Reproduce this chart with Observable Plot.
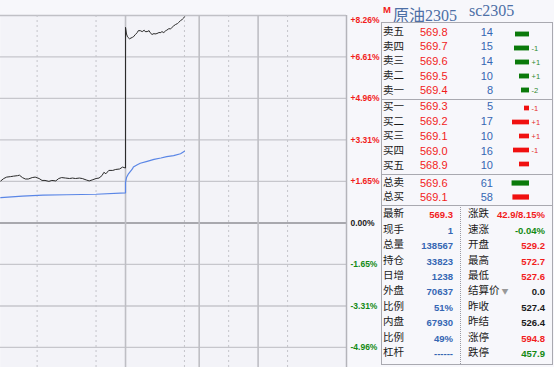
<!DOCTYPE html>
<html><head><meta charset="utf-8">
<script src="https://cdn.jsdelivr.net/npm/d3@7"></script>
<script src="https://cdn.jsdelivr.net/npm/@observablehq/plot@0.6"></script>
<style>
html,body{margin:0;padding:0;}
body{width:554px;height:367px;background:#f7f7fb;position:relative;overflow:hidden;font-family:"Liberation Sans",Arial,sans-serif;}
.abs{position:absolute;}
.cn{font-family:"Noto Sans CJK SC",sans-serif;}
.row{position:absolute;left:0;width:171px;}
</style></head><body>
<div id="chart" class="abs" style="left:0;top:0"></div>
<div id="panel"></div>
<script>
// ---------- data ----------
const settle = 526.4;
const pctTicks = [8.26, 6.61, 4.96, 3.31, 1.65, 0, -1.65, -3.31, -4.96];
const sessionBreaks = ["02:30", "10:15", "11:30"];
const hourMarks = ["01:00", "02:00", "10:00", "11:00", "14:00"];
const sessionEnd = "15:00";
const viewStartSlot = 202.7; // left edge of the cropped view (~00:23)

const nightTimes = ["00:23","00:26","00:29","00:33","00:36","00:40","00:42","00:45","00:48","00:51","00:55","00:58","01:02","01:05","01:08","01:12","01:15","01:19","01:22","01:25","01:29","01:33","01:36","01:39","01:43","01:46","01:50","01:53","01:56","02:00","02:03","02:06","02:08","02:10","02:13","02:17","02:20","02:24","02:27","02:30"];
const nightPrices = [535.2,535.7,536.0,536.1,536.2,536.3,536.4,535.9,535.6,535.6,535.9,536.0,535.7,535.3,535.3,535.1,535.3,535.2,535.7,535.9,535.8,535.7,535.8,535.7,535.8,535.7,535.4,535.2,535.4,535.7,535.8,536.3,537.0,536.7,537.4,537.4,537.6,537.7,538.1,537.9];
const dayTimes = ["09:00","09:01","09:02","09:04","09:07","09:08","09:10","09:12","09:13","09:15","09:17","09:19","09:20","09:22","09:24","09:25","09:27","09:29","09:30","09:32","09:34","09:36","09:37","09:39","09:41","09:42","09:44","09:46","09:47","09:49","09:51","09:53","09:54","09:56","09:58","09:59","10:00"];
const dayPrices = [567.4,566.0,565.4,565.0,565.3,565.4,565.9,566.3,566.7,566.7,566.5,566.8,566.5,566.5,566.7,566.3,565.9,566.1,566.0,566.1,566.3,566.3,566.5,566.3,566.7,566.8,567.1,567.1,567.3,567.7,568.0,568.2,568.4,568.8,569.1,569.3,569.6];
const avgTimes = ["00:23","00:45","01:06","01:30","02:00","02:30","09:00","09:01","09:03","09:05","09:07","09:08","09:12","09:15","09:22","09:29","09:36","09:42","09:49","09:56","10:00"];
const avgPrices = [531.7,532.0,532.2,532.3,532.4,532.7,534.9,535.9,536.7,537.2,537.7,538.1,538.6,538.9,539.3,539.7,540.0,540.3,540.5,540.9,541.4];

const headerName = "原油2305";
const headerCode = "sc2305";
const sellLabels = ["卖五","卖四","卖三","卖二","卖一"];
const sellPrices = ["569.8","569.7","569.6","569.5","569.4"];
const sellVols = [14,15,14,10,8];
const sellChg = ["","-1","+1","+1","-2"];
const buyLabels = ["买一","买二","买三","买四","买五"];
const buyPrices = ["569.3","569.2","569.1","569.0","568.9"];
const buyVols = [5,17,10,16,10];
const buyChg = ["-1","+1","+1","-1",""];
const totLabels = ["总卖","总买"];
const totPrices = ["569.6","569.1"];
const totVols = [61,58];
const leftLabels = ["最新","现手","总量","持仓","日增","外盘","比例","内盘","比例","杠杆"];
const leftValues = ["569.3","1","138567","33823","1238","70637","51%","67930","49%","------"];
const rightLabels = ["涨跌","速涨","开盘","最高","最低","结算价","昨收","昨结","涨停","跌停"];
const rightValues = ["42.9/8.15%","-0.04%","529.2","572.7","527.6","0.0","527.4","526.4","594.8","457.9"];

// ---------- helpers ----------
function toSlot(s){
  const [h,m] = s.split(":").map(Number); const t = h*60+m;
  if (h >= 21) return t - 1260;
  if (h < 3) return t + 180;
  if (t <= 615) return 330 + t - 540;
  if (t <= 690) return 405 + t - 630;
  return 465 + t - 810;
}
const pct = p => (p/settle - 1)*100;
const priceData = nightTimes.map((t,i)=>({t:toSlot(t), pct:pct(nightPrices[i])}))
  .concat(dayTimes.map((t,i)=>({t:toSlot(t), pct:pct(dayPrices[i])})));
const avgData = avgTimes.map((t,i)=>({t:toSlot(t), pct:pct(avgPrices[i])}));

const RED = "#f21c1c", GREEN = "#138a13", BLUE = "#3566b3", BLACK = "#1a1a1a";
const lblStyle = {fontSize: 8.5, fontWeight: "bold", frameAnchor: "right", textAnchor: "start", dx: 4, y: d => d};

const chart = Plot.plot({
  width: 382, height: 367,
  marginLeft: 0, marginRight: 36, marginTop: 15, marginBottom: 0,
  style: {background: "transparent", fontFamily: "Liberation Sans, Arial, sans-serif"},
  x: {domain: [viewStartSlot, toSlot(sessionEnd)], axis: null},
  y: {domain: [-5.76, 8.26], axis: null},
  marks: [
    Plot.frame({fill: "#f3f3f8", stroke: null}),
    Plot.ruleY(pctTicks.filter(d => d !== 0 && d !== pctTicks[0]), {stroke: "#c6c6cc", strokeWidth: 1.3}),
    Plot.ruleY([pctTicks[0]], {stroke: "#c0c0c6", strokeWidth: 1.5}),
    Plot.ruleY([0], {stroke: "#a8a8ae", strokeWidth: 2}),
    Plot.ruleX(hourMarks.map(toSlot), {stroke: "#c4c4ca", strokeDasharray: "2,3", strokeWidth: 1}),
    Plot.ruleX(sessionBreaks.map(toSlot), {stroke: "#bebec4", strokeWidth: 1.6}),
    Plot.ruleX([toSlot(sessionEnd)], {stroke: "#b4b4ba", strokeWidth: 1.5}),
    Plot.line(avgData, {x: "t", y: "pct", stroke: "#5a86e6", strokeWidth: 1.2}),
    Plot.line(priceData, {x: "t", y: "pct", stroke: "#2a2a2a", strokeWidth: 1}),
    Plot.text([pctTicks[0]], {...lblStyle, text: d => "+" + d.toFixed(2) + "%", fill: RED, lineAnchor: "top", dy: 1}),
    Plot.text(pctTicks.filter(d => d > 0 && d !== pctTicks[0]), {...lblStyle, text: d => "+" + d.toFixed(2) + "%", fill: RED}),
    Plot.text([0], {...lblStyle, text: d => d.toFixed(2) + "%", fill: "#222"}),
    Plot.text(pctTicks.filter(d => d < 0), {...lblStyle, text: d => d.toFixed(2) + "%", fill: GREEN})
  ]
});
document.getElementById("chart").appendChild(chart);

// ---------- right panel ----------
const panel = document.getElementById("panel");
const PX = 381, PW = 171;
function add(parent, css, text, cls){
  const e = document.createElement("div");
  if (cls) e.className = cls;
  e.style.cssText = css;
  if (text !== undefined) e.textContent = text;
  parent.appendChild(e); return e;
}
// header
add(panel, `position:absolute;left:383px;top:4px;font:bold 9.5px 'Liberation Sans';color:${RED};`, "M");
add(panel, `position:absolute;left:393px;top:2px;font:16px 'Liberation Serif','Noto Sans CJK SC';color:#4d6fa6;white-space:nowrap;`, headerName);
add(panel, `position:absolute;left:469px;top:2px;font:16px 'Liberation Serif';color:#4d6fa6;white-space:nowrap;`, headerCode);
// box & separators
add(panel, `position:absolute;left:${PX}px;top:22px;width:${PW-1}px;height:341px;border:1px solid #a9a9b0;`);
[98.5, 174, 205].forEach(y => add(panel, `position:absolute;left:${PX}px;top:${y}px;width:${PW}px;height:0;border-top:1px solid #a9a9b0;`));
add(panel, `position:absolute;left:460px;top:207px;width:0;height:157px;border-left:1px dotted #9a9aa2;`);

function book(top, rowH, labels, prices, vols, chg, maxVol, fills, chgColor){
  const blk = add(panel, `position:absolute;left:${PX}px;top:${top}px;width:${PW}px;height:${rowH*labels.length}px;`);
  labels.forEach((l,i) => {
    const r = add(blk, `top:${i*rowH}px;height:${rowH}px;line-height:${rowH}px;`, undefined, "row");
    add(r, `position:absolute;top:-0.5px;left:2px;font-size:10.5px;line-height:${rowH}px;color:${BLACK};`, l, "cn");
    add(r, `position:absolute;top:0;left:39px;font-size:11px;line-height:${rowH}px;color:${RED};`, prices[i]);
    add(r, `position:absolute;top:0;left:80px;width:32px;text-align:right;font-size:11px;line-height:${rowH}px;color:${BLUE};`, String(vols[i]));
  });
  const data = labels.map((l,i) => ({l, v: vols[i], c: chg[i], f: fills[i]}));
  const ins = (rowH - 5.5)/2;
  const p = Plot.plot({
    width: PW, height: rowH*labels.length,
    marginLeft: 128, marginRight: 23, marginTop: 0, marginBottom: 0,
    style: {background: "transparent", overflow: "visible", fontFamily: "Liberation Sans"},
    x: {domain: [0, maxVol], reverse: true, axis: null},
    y: {domain: labels, axis: null, padding: 0},
    marks: [
      Plot.barX(data.filter(d => d.f === "g"), {x: "v", y: "l", fill: "#0b7a0b", insetTop: ins, insetBottom: ins}),
      Plot.barX(data.filter(d => d.f === "r"), {x: "v", y: "l", fill: "#f01010", insetTop: ins, insetBottom: ins}),
      Plot.text(data, {y: "l", text: "c", frameAnchor: "right", textAnchor: "start", dx: 2, fill: chgColor, fontSize: 7.5})
    ]
  });
  p.style.position = "absolute"; p.style.left = "0px"; p.style.top = "0px";
  blk.appendChild(p);
}
book(24.7, 14.65, sellLabels, sellPrices, sellVols, sellChg, 20, sellLabels.map(()=>"g"), "#2f8a2f");
book(99.3, 14.8, buyLabels, buyPrices, buyVols, buyChg, 20, buyLabels.map(()=>"r"), "#e52a2a");
book(175.5, 14.3, totLabels, totPrices, totVols, ["",""], 70, ["g","r"], "#000");

// quote section
const leftColors = [RED, BLUE, BLUE, BLUE, BLUE, BLUE, BLUE, BLUE, BLUE, BLUE];
const rightColors = [RED, GREEN, RED, RED, RED, BLACK, BLACK, BLACK, RED, GREEN];
const qTop = 206.3, qH = 15.4;
leftLabels.forEach((l,i) => {
  const r = add(panel, `position:absolute;left:${PX}px;top:${qTop+i*qH}px;height:${qH}px;width:${PW}px;`);
  add(r, `position:absolute;top:-1px;left:2px;font-size:10.5px;line-height:${qH}px;color:${BLACK};`, l, "cn");
  add(r, `position:absolute;top:1px;left:20px;width:52px;text-align:right;font:bold 9.5px/${qH}px 'Liberation Sans';color:${leftColors[i]};`, leftValues[i]);
  const rl = add(r, `position:absolute;top:-1px;left:87px;font-size:10.5px;line-height:${qH}px;color:${BLACK};white-space:nowrap;`, rightLabels[i], "cn");
  if (rightLabels[i] === "结算价") add(rl, `display:inline-block;margin-left:2px;font-size:7px;color:#999;vertical-align:middle;`, "▼");
  add(r, `position:absolute;top:1px;left:100px;width:64px;text-align:right;font:bold 9.5px/${qH}px 'Liberation Sans';color:${rightColors[i]};`, rightValues[i]);
});
</script></body></html>
